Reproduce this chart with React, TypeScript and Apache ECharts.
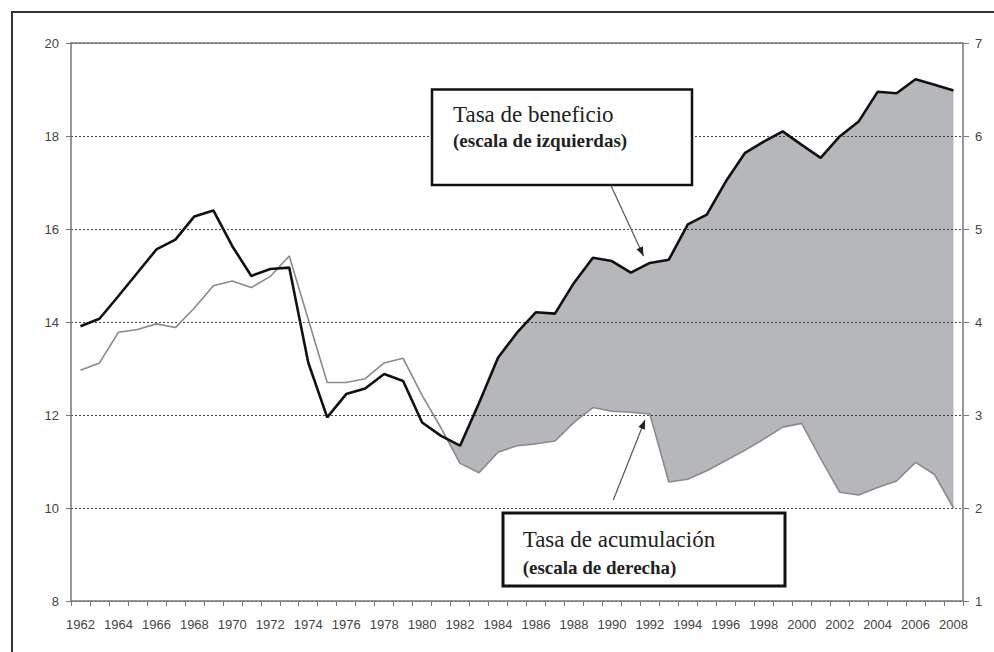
import React, { useEffect, useRef } from "react";
import * as echarts from "echarts";

const years: string[] = [];
for (let y = 1962; y <= 2008; y++) years.push(String(y));

// Tasa de beneficio (escala de izquierdas)
const beneficio = [
  13.91, 14.07, 14.56, 15.06, 15.56, 15.77, 16.27, 16.4, 15.63, 14.99,
  15.14, 15.17, 13.13, 11.95, 12.45, 12.57, 12.88, 12.73, 11.84, 11.55,
  11.34, 12.26, 13.23, 13.77, 14.21, 14.18, 14.84, 15.38, 15.31, 15.06,
  15.27, 15.34, 16.1, 16.31, 17.02, 17.63, 17.88, 18.1, 17.81, 17.53,
  17.99, 18.31, 18.95, 18.92, 19.22, 19.1, 18.98,
];

// Tasa de acumulación (escala de derecha)
const acumulacion = [
  3.48, 3.56, 3.89, 3.92, 3.98, 3.94, 4.15, 4.39, 4.44, 4.37,
  4.49, 4.71, 4.03, 3.35, 3.35, 3.39, 3.56, 3.61, 3.21, 2.86,
  2.48, 2.38, 2.6, 2.67, 2.69, 2.72, 2.92, 3.08, 3.04, 3.03,
  3.01, 2.28, 2.31, 2.4, 2.51, 2.62, 2.74, 2.87, 2.91, 2.53,
  2.17, 2.14, 2.22, 2.29, 2.49, 2.36, 2.0,
];

const LEFT_MIN = 8, LEFT_MAX = 20, LEFT_STEP = 2;
const RIGHT_MIN = 1, RIGHT_MAX = 7, RIGHT_STEP = 1;

function arrowHead(x1: number, y1: number, x2: number, y2: number, len = 9, w = 3.5) {
  const dx = x2 - x1, dy = y2 - y1;
  const d = Math.sqrt(dx * dx + dy * dy);
  const ux = dx / d, uy = dy / d;
  const px = -uy, py = ux;
  const bx = x2 - ux * len, by = y2 - uy * len;
  return [
    [x2, y2],
    [bx + px * w, by + py * w],
    [bx - px * w, by - py * w],
  ];
}

export default function App() {
  const ref = useRef<HTMLDivElement>(null);
  useEffect(() => {
    document.body.style.margin = "0";
    if (!ref.current) return;
    const chart = echarts.init(ref.current, undefined, { renderer: "svg" });
    const axisColor = "#777";
    const labelStyle = { color: "#444", fontSize: 13, fontFamily: "Liberation Sans, Arial, sans-serif" };
    const toLeft = (r: number) =>
      LEFT_MIN + ((r - RIGHT_MIN) * (LEFT_MAX - LEFT_MIN)) / (RIGHT_MAX - RIGHT_MIN);

    const a1 = { x1: 610.7, y1: 185, x2: 643.5, y2: 256 };
    const a2 = { x1: 613.3, y1: 500, x2: 645, y2: 420 };

    const option: any = {
      animation: false,
      backgroundColor: "#fff",
      grid: { left: 71, right: 31, top: 43, bottom: 51, containLabel: false },
      xAxis: [
        {
          type: "category",
          data: years,
          boundaryGap: true,
          z: 2,
          axisLine: { show: true, lineStyle: { color: axisColor, width: 1.5 } },
          axisTick: { show: true, interval: 0, length: 5, lineStyle: { color: axisColor } },
          axisLabel: { ...labelStyle, interval: 1, margin: 17 },
          splitLine: { show: false },
        },
        {
          type: "category",
          data: years,
          position: "top",
          boundaryGap: true,
          z: 2,
          axisLine: { show: true, lineStyle: { color: axisColor, width: 1.5 } },
          axisTick: { show: false },
          axisLabel: { show: false },
          splitLine: { show: false },
        },
      ],
      yAxis: [
        {
          type: "value",
          position: "left",
          min: LEFT_MIN,
          max: LEFT_MAX,
          interval: LEFT_STEP,
          z: 2,
          axisLine: { show: true, lineStyle: { color: axisColor, width: 1.5 } },
          axisTick: { show: true, length: 5, lineStyle: { color: axisColor } },
          axisLabel: { ...labelStyle, margin: 12 },
          splitLine: { show: true, lineStyle: { type: [2, 2], color: "#444", width: 1 } },
        },
        {
          type: "value",
          position: "right",
          min: RIGHT_MIN,
          max: RIGHT_MAX,
          interval: RIGHT_STEP,
          z: 2,
          axisLine: { show: true, lineStyle: { color: axisColor, width: 1.5 } },
          axisTick: { show: true, length: 6, lineStyle: { color: axisColor } },
          axisLabel: { ...labelStyle, margin: 12 },
          splitLine: { show: false },
        },
      ],
      series: [
        {
          type: "custom",
          xAxisIndex: 0,
          yAxisIndex: 0,
          z: 1,
          silent: true,
          data: [[0, beneficio[0]]],
          renderItem: (params: any, api: any) => {
            if (params.dataIndex !== 0) return null;
            const n = beneficio.length;
            let s = 0;
            for (let i = n - 1; i >= 0; i--) {
              if (beneficio[i] <= toLeft(acumulacion[i])) { s = i; break; }
            }
            const b0 = api.coord([s, beneficio[s]]);
            const b1 = api.coord([s + 1, beneficio[s + 1]]);
            const g0 = api.coord([s, toLeft(acumulacion[s])]);
            const g1 = api.coord([s + 1, toLeft(acumulacion[s + 1])]);
            const d0 = g0[1] - b0[1];
            const d1 = g1[1] - b1[1];
            const t = d0 / (d0 - d1);
            const cross = [b0[0] + (b1[0] - b0[0]) * t, b0[1] + (b1[1] - b0[1]) * t];
            const pts: number[][] = [cross];
            for (let i = s + 1; i < n; i++) pts.push(api.coord([i, beneficio[i]]));
            for (let i = n - 1; i > s; i--) pts.push(api.coord([i, toLeft(acumulacion[i])]));
            return {
              type: "polygon",
              shape: { points: pts },
              style: { fill: "#b5b7bb", stroke: "none" },
            };
          },
        },
        {
          name: "Tasa de acumulación",
          type: "line",
          xAxisIndex: 0,
          yAxisIndex: 1,
          data: acumulacion,
          symbol: "none",
          lineStyle: { color: "#8a8a8a", width: 1.6 },
          z: 3,
        },
        {
          name: "Tasa de beneficio",
          type: "line",
          xAxisIndex: 0,
          yAxisIndex: 0,
          data: beneficio,
          symbol: "none",
          lineStyle: { color: "#111", width: 2.6 },
          z: 4,
        },
      ],
      graphic: [
        {
          type: "rect",
          shape: { x: 12, y: 12, width: 1000, height: 700 },
          style: { fill: "none", stroke: "#333", lineWidth: 2 },
          silent: true,
        },
        {
          type: "rect",
          shape: { x: 432, y: 89.5, width: 260, height: 95.5 },
          style: { fill: "#fff", stroke: "#111", lineWidth: 2.5 },
          z: 100,
        },
        {
          type: "text",
          z: 101,
          style: {
            text: "Tasa de beneficio",
            x: 453,
            y: 114,
            font: "23px 'Liberation Serif', 'Times New Roman', serif",
            fill: "#222",
            align: "left",
            verticalAlign: "middle",
            textAlign: "left",
            textVerticalAlign: "middle",
          },
        },
        {
          type: "text",
          z: 101,
          style: {
            text: "(escala de izquierdas)",
            x: 453,
            y: 140.5,
            font: "bold 19px 'Liberation Serif', 'Times New Roman', serif",
            fill: "#222",
            align: "left",
            verticalAlign: "middle",
            textAlign: "left",
            textVerticalAlign: "middle",
          },
        },
        {
          type: "line",
          z: 100,
          shape: { x1: a1.x1, y1: a1.y1, x2: a1.x2, y2: a1.y2 },
          style: { stroke: "#555", lineWidth: 1.2 },
        },
        {
          type: "polygon",
          z: 100,
          shape: { points: arrowHead(a1.x1, a1.y1, a1.x2, a1.y2) },
          style: { fill: "#222" },
        },
        {
          type: "rect",
          shape: { x: 503, y: 513, width: 282, height: 73 },
          style: { fill: "#fff", stroke: "#111", lineWidth: 3 },
          z: 100,
        },
        {
          type: "text",
          z: 101,
          style: {
            text: "Tasa de acumulación",
            x: 522.7,
            y: 539,
            font: "23px 'Liberation Serif', 'Times New Roman', serif",
            fill: "#222",
            align: "left",
            verticalAlign: "middle",
            textAlign: "left",
            textVerticalAlign: "middle",
          },
        },
        {
          type: "text",
          z: 101,
          style: {
            text: "(escala de derecha)",
            x: 522.7,
            y: 567,
            font: "bold 19px 'Liberation Serif', 'Times New Roman', serif",
            fill: "#222",
            align: "left",
            verticalAlign: "middle",
            textAlign: "left",
            textVerticalAlign: "middle",
          },
        },
        {
          type: "line",
          z: 100,
          shape: { x1: a2.x1, y1: a2.y1, x2: a2.x2, y2: a2.y2 },
          style: { stroke: "#555", lineWidth: 1.2 },
        },
        {
          type: "polygon",
          z: 100,
          shape: { points: arrowHead(a2.x1, a2.y1, a2.x2, a2.y2) },
          style: { fill: "#222" },
        },
      ],
    };
    chart.setOption(option);
    return () => chart.dispose();
  }, []);
  return <div ref={ref} style={{ width: 994, height: 652 }} />;
}
